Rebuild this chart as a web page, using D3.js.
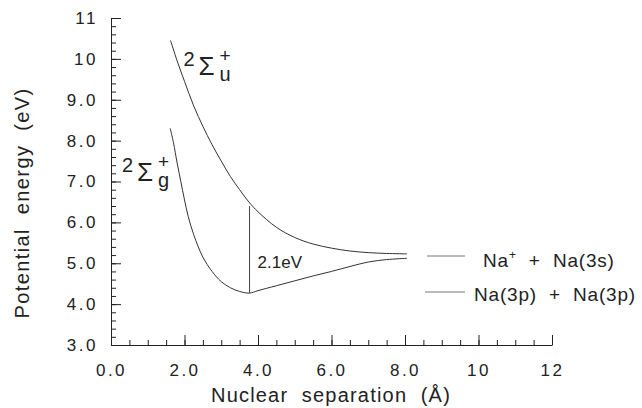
<!DOCTYPE html>
<html><head><meta charset="utf-8">
<script src="https://cdn.jsdelivr.net/npm/d3@7"></script>
<style>
body{margin:0;background:#fff;}
svg{display:block;font-family:"Liberation Sans",Arial,sans-serif;}
</style></head>
<body><svg id="c" width="642" height="408"></svg>
<script>
// ---- data ----
const xTickValues = [0, 2, 4, 6, 8, 10, 12];
const xTickLabels = ["0.0", "2.0", "4.0", "6.0", "8.0", "10", "12"];
const yTickValues = [3, 4, 5, 6, 7, 8, 9, 10, 11];
const yTickLabels = ["3.0", "4.0", "5.0", "6.0", "7.0", "8.0", "9.0", "10", "11"];

// 2Σu+ curve (Na+ + Na(3s))
const upperR = [1.62, 1.8, 2.0, 2.25, 2.5, 2.75, 3.0, 3.25, 3.5, 3.75, 4.0, 4.5, 5.0, 5.5, 6.0, 6.5, 7.0, 7.5, 8.05];
const upperE = [10.45, 9.95, 9.45, 8.85, 8.35, 7.9, 7.5, 7.12, 6.8, 6.5, 6.26, 5.88, 5.63, 5.47, 5.37, 5.30, 5.26, 5.24, 5.23];
// 2Σg+ curve (Na(3p) + Na(3p))
const lowerR = [1.61, 1.7, 1.8, 1.9, 2.0, 2.1, 2.25, 2.5, 2.75, 3.0, 3.25, 3.5, 3.77, 4.0, 4.5, 5.0, 5.5, 6.0, 6.5, 7.0, 7.5, 8.05];
const lowerE = [8.30, 7.95, 7.45, 7.0, 6.55, 6.15, 5.7, 5.15, 4.8, 4.55, 4.40, 4.31, 4.27, 4.33, 4.45, 4.57, 4.69, 4.80, 4.92, 5.03, 5.09, 5.12];

const gapR = 3.77, gapTop = 6.40, gapBottom = 4.27, gapLabel = "2.1eV";
const legendLabels = ["Na(3p)  +  Na(3p)"];

// ---- layout ----
const svg = d3.select("#c");
const x = d3.scaleLinear().domain([0, 12]).range([111, 552]);
const y = d3.scaleLinear().domain([3, 11]).range([345, 18]);
const ink = "#222";

// axes
const xMinor = d3.range(0, 12.01, 0.5);
const yMinor = d3.range(3, 11.01, 0.2);
svg.append("g").attr("transform", "translate(0,345)")
  .call(d3.axisBottom(x).tickValues(xMinor).tickSize(-5).tickSizeOuter(0).tickFormat(""))
  .call(g => g.selectAll("line,path").attr("stroke", ink));
svg.append("g").attr("transform", "translate(0,345)")
  .call(d3.axisBottom(x).tickValues(xTickValues).tickSize(-10).tickSizeOuter(0).tickPadding(19)
    .tickFormat((d, i) => xTickLabels[i]))
  .call(g => g.select(".domain").remove())
  .call(g => g.selectAll("line").attr("stroke", ink))
  .call(g => g.selectAll("text").attr("font-size", 17).attr("fill", ink)
    .attr("letter-spacing", "2.5px").attr("font-family", "Liberation Sans, Arial, sans-serif"));
svg.append("g").attr("transform", "translate(111,0)")
  .call(d3.axisLeft(y).tickValues(yMinor).tickSize(-5).tickSizeOuter(0).tickFormat(""))
  .call(g => g.selectAll("line,path").attr("stroke", ink));
svg.append("g").attr("transform", "translate(111,0)")
  .call(d3.axisLeft(y).tickValues(yTickValues).tickSize(-10).tickSizeOuter(0).tickPadding(13)
    .tickFormat((d, i) => yTickLabels[i]))
  .call(g => g.select(".domain").remove())
  .call(g => g.selectAll("line").attr("stroke", ink))
  .call(g => g.selectAll("text").attr("font-size", 17).attr("fill", ink)
    .attr("letter-spacing", "2.5px").attr("font-family", "Liberation Sans, Arial, sans-serif"));

// axis titles
svg.append("text").attr("x", 331).attr("y", 402).attr("text-anchor", "middle")
  .attr("font-size", 20).attr("letter-spacing", "1.2px").attr("fill", ink)
  .style("white-space", "pre").text("Nuclear  separation  (Å)");
svg.append("text").attr("transform", "translate(29,203) rotate(-90)").attr("text-anchor", "middle")
  .attr("font-size", 20).attr("letter-spacing", "1.4px").attr("fill", ink)
  .style("white-space", "pre").text("Potential  energy  (eV)");

// curves
const line = d3.line().x(d => x(d[0])).y(d => y(d[1])).curve(d3.curveCatmullRom.alpha(0.5));
svg.append("path").datum(upperR.map((r, i) => [r, upperE[i]]))
  .attr("d", line).attr("fill", "none").attr("stroke", "#333").attr("stroke-width", 1);
svg.append("path").datum(lowerR.map((r, i) => [r, lowerE[i]]))
  .attr("d", line).attr("fill", "none").attr("stroke", "#333").attr("stroke-width", 1);

// gap marker
svg.append("line").attr("x1", x(gapR)).attr("x2", x(gapR)).attr("y1", y(gapTop)).attr("y2", y(gapBottom))
  .attr("stroke", "#444").attr("stroke-width", 1);
svg.append("text").attr("x", x(gapR) + 8).attr("y", y(gapBottom) - 25)
  .attr("font-size", 17).attr("fill", ink).text(gapLabel);

// state labels (one text element with tspans)
function stateLabel(r, e, sub) {
  const x0 = x(r), y0 = y(e);
  const t = svg.append("text").attr("x", x0).attr("y", y0).attr("fill", ink);
  t.append("tspan").attr("font-size", 20).text("2");
  t.append("tspan").attr("font-size", 26).attr("x", x0 + 15).attr("dy", 9).text("Σ");
  t.append("tspan").attr("font-size", 19).attr("x", x0 + 36).attr("dy", -13).text("+");
  t.append("tspan").attr("font-size", 20).attr("x", x0 + 36).attr("dy", 19).text(sub);
}
stateLabel(1.97, 9.83, "u");
stateLabel(0.30, 7.23, "g");

// legend
const lg = svg.append("g");
lg.append("line").attr("x1", 427).attr("x2", 465).attr("y1", 256).attr("y2", 256).attr("stroke", "#777");
const t1 = lg.append("text").attr("x", 483).attr("y", 267).attr("font-size", 19).attr("fill", ink)
  .attr("letter-spacing", "0.8px").style("white-space", "pre");
t1.append("tspan").text("Na");
t1.append("tspan").attr("font-size", 12).attr("dy", -8).text("+");
t1.append("tspan").attr("dy", 8).text("  +  Na(3s)");
lg.append("line").attr("x1", 425).attr("x2", 465).attr("y1", 292).attr("y2", 292).attr("stroke", "#777");
lg.append("text").attr("x", 474).attr("y", 301).attr("font-size", 19).attr("fill", ink)
  .attr("letter-spacing", "0.8px").style("white-space", "pre").text(legendLabels[0]);
</script></body></html>
